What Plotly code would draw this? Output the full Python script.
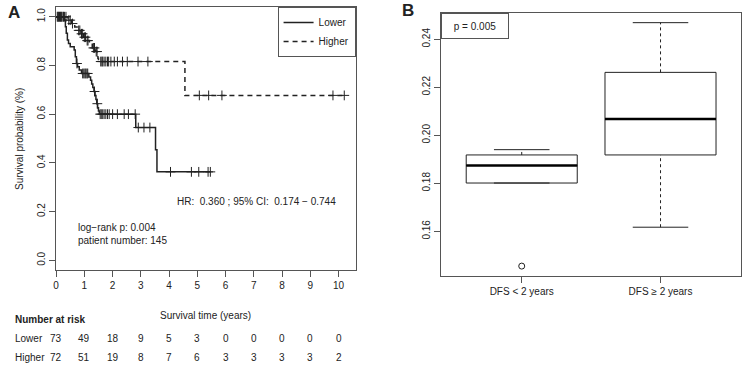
import plotly.graph_objects as go

# ---------------- Panel A data (Kaplan-Meier) ----------------
lower_step_t = [0.0, 0.30, 0.33, 0.36, 0.40, 0.44, 0.50, 0.64, 0.68, 0.72, 0.76, 0.82, 0.90,
                1.16, 1.22, 1.26, 1.30, 1.34, 1.38, 1.41, 1.44, 1.47, 1.50, 1.53, 2.82, 3.52, 3.57, 5.46]
lower_step_s = [1.0, 0.986, 0.959, 0.932, 0.904, 0.890, 0.877, 0.863, 0.836, 0.808, 0.795, 0.781, 0.767,
                0.753, 0.739, 0.724, 0.709, 0.693, 0.677, 0.660, 0.643, 0.626, 0.613, 0.600, 0.545, 0.454, 0.363, 0.363]
lower_cens_t = [0.04, 0.08, 0.12, 0.16, 0.20, 0.25, 0.74, 0.94, 0.98, 1.02, 1.05, 1.09, 1.12, 1.36, 1.46,
                1.56, 1.60, 1.65, 1.70, 1.76, 1.82, 1.88, 2.0, 2.17, 2.41, 2.56, 2.80,
                2.91, 3.11, 3.32, 4.05, 4.79, 5.05, 5.38, 5.46]
lower_cens_s = [1.0, 1.0, 1.0, 1.0, 1.0, 1.0, 0.808, 0.767, 0.767, 0.767, 0.767, 0.767, 0.767, 0.693, 0.643,
                0.600, 0.600, 0.600, 0.600, 0.600, 0.600, 0.600, 0.600, 0.600, 0.600, 0.600, 0.600,
                0.545, 0.545, 0.545, 0.363, 0.363, 0.363, 0.363, 0.363]

higher_step_t = [0.0, 0.42, 0.55, 0.66, 0.78, 0.88, 0.98, 1.08, 1.18, 1.28, 1.40, 1.46, 1.48, 1.50, 4.56, 10.2]
higher_step_s = [1.0, 0.986, 0.972, 0.958, 0.944, 0.930, 0.916, 0.902, 0.887, 0.872, 0.857, 0.843, 0.830, 0.816, 0.677, 0.677]
higher_cens_t = [0.06, 0.10, 0.15, 0.20, 0.26, 0.30, 0.35, 0.45, 0.50, 0.58, 0.80, 0.84, 0.90, 0.94, 1.00, 1.04,
                 1.10, 1.13, 1.32, 1.36, 1.42, 1.45,
                 1.58, 1.62, 1.65, 1.70, 1.76, 1.82, 1.86, 1.94, 2.06, 2.17, 2.35, 2.52, 2.90, 3.25,
                 5.07, 5.40, 5.87, 9.80, 10.2]
higher_cens_s = [1.0, 1.0, 1.0, 1.0, 1.0, 1.0, 1.0, 0.986, 0.986, 0.972, 0.944, 0.944, 0.930, 0.930, 0.916, 0.916,
                 0.902, 0.902, 0.872, 0.872, 0.857, 0.857,
                 0.816, 0.816, 0.816, 0.816, 0.816, 0.816, 0.816, 0.816, 0.816, 0.816, 0.816, 0.816, 0.816, 0.816,
                 0.677, 0.677, 0.677, 0.677, 0.677]

risk_times = [0, 1, 2, 3, 4, 5, 6, 7, 8, 9, 10]
risk_lower = [73, 49, 18, 9, 5, 3, 0, 0, 0, 0, 0]
risk_higher = [72, 51, 19, 8, 7, 6, 3, 3, 3, 3, 2]

# ---------------- Panel B data (box plot statistics) ----------------
box_labels = ["DFS < 2 years", "DFS \u2265 2 years"]
box_pos = [1, 2]
box_lower_whisker = [0.1801, 0.1617]
box_q1 = [0.1801, 0.1918]
box_median = [0.1874, 0.2068]
box_q3 = [0.1918, 0.2262]
box_upper_whisker = [0.1940, 0.2469]
outlier_x = [1]
outlier_y = [0.1455]

FONT = "Liberation Sans, Arial, Helvetica, sans-serif"
INK = "#222222"
W, H = 744, 365


def px(x):
    return x / W


def py(y):
    return 1 - y / H


fig = go.Figure()

# ---- Panel A traces ----
fig.add_trace(go.Scatter(x=lower_step_t, y=lower_step_s, mode="lines", line_shape="hv",
                         line=dict(color=INK, width=1.5), name="Lower", xaxis="x", yaxis="y"))
fig.add_trace(go.Scatter(x=higher_step_t, y=higher_step_s, mode="lines", line_shape="hv",
                         line=dict(color=INK, width=1.5, dash="5px,4px"), name="Higher", xaxis="x", yaxis="y"))
fig.add_trace(go.Scatter(x=lower_cens_t, y=lower_cens_s, mode="markers", showlegend=False,
                         marker=dict(symbol="cross-thin", size=7, line=dict(width=1, color=INK)),
                         xaxis="x", yaxis="y"))
fig.add_trace(go.Scatter(x=higher_cens_t, y=higher_cens_s, mode="markers", showlegend=False,
                         marker=dict(symbol="cross-thin", size=7, line=dict(width=1, color=INK)),
                         xaxis="x", yaxis="y"))

# ---- Panel B traces ----
BOX_W = 0.8
for i in range(len(box_pos)):
    xp = box_pos[i]
    # dashed whiskers
    fig.add_trace(go.Scatter(x=[xp, xp], y=[box_q3[i], box_upper_whisker[i]], mode="lines",
                             line=dict(color=INK, width=1, dash="3px,3px"), showlegend=False,
                             xaxis="x2", yaxis="y2"))
    fig.add_trace(go.Scatter(x=[xp, xp], y=[box_lower_whisker[i], box_q1[i]], mode="lines",
                             line=dict(color=INK, width=1, dash="3px,3px"), showlegend=False,
                             xaxis="x2", yaxis="y2"))
    # caps
    for wv in (box_upper_whisker[i], box_lower_whisker[i]):
        fig.add_trace(go.Scatter(x=[xp - BOX_W / 4, xp + BOX_W / 4], y=[wv, wv], mode="lines",
                                 line=dict(color=INK, width=1), showlegend=False,
                                 xaxis="x2", yaxis="y2"))
    # box body
    fig.add_trace(go.Box(x=[xp], q1=[box_q1[i]], median=[box_median[i]], q3=[box_q3[i]],
                         lowerfence=[box_q1[i]], upperfence=[box_q3[i]], width=BOX_W,
                         whiskerwidth=0, boxpoints=False, fillcolor="white",
                         line=dict(color=INK, width=1), showlegend=False,
                         hoverinfo="skip", xaxis="x2", yaxis="y2"))
    # thick median
    fig.add_trace(go.Scatter(x=[xp - BOX_W / 2, xp + BOX_W / 2], y=[box_median[i], box_median[i]],
                             mode="lines", line=dict(color="black", width=2.6), showlegend=False,
                             xaxis="x2", yaxis="y2"))

fig.add_trace(go.Scatter(x=outlier_x, y=outlier_y, mode="markers", showlegend=False,
                         marker=dict(symbol="circle-open", size=6, color=INK, line=dict(width=1)),
                         xaxis="x2", yaxis="y2"))

axis_common = dict(showgrid=False, zeroline=False, showline=True, mirror=True,
                   linecolor="#555555", linewidth=1, ticks="outside", ticklen=6,
                   tickcolor="#555555", tickfont=dict(family=FONT, size=10, color=INK))

fig.update_layout(
    width=W, height=H, margin=dict(l=0, r=0, t=0, b=0),
    paper_bgcolor="white", plot_bgcolor="white",
    font=dict(family=FONT, size=10, color=INK),
    xaxis=dict(domain=[px(53.3), px(354)], range=[0, 10.6], tickvals=risk_times,
               anchor="y", **axis_common),
    yaxis=dict(domain=[py(270), py(7)], range=[-0.04, 1.04], tickvals=[0, 0.2, 0.4, 0.6, 0.8, 1.0],
               tickformat=".1f", tickangle=-90, anchor="x", **axis_common),
    xaxis2=dict(domain=[px(440), px(741)], range=[0.42, 2.58], tickvals=box_pos, ticktext=box_labels,
                anchor="y2", **axis_common),
    yaxis2=dict(domain=[py(275.7), py(13.3)], range=[0.1415, 0.2508],
                tickvals=[0.16, 0.18, 0.20, 0.22, 0.24], tickformat=".2f", tickangle=-90,
                anchor="x2", **axis_common),
    legend=dict(x=px(354), xanchor="right", y=py(7), yanchor="top",
                bordercolor="#555555", borderwidth=1, bgcolor="white",
                font=dict(family=FONT, size=10, color=INK), itemwidth=30,
                tracegroupgap=0),
    showlegend=True,
)

ann = []


def text(x, y, s, size=10, bold=False, xanchor="center", xref="paper", yanchor="middle", **kw):
    ann.append(dict(x=x, y=y, xref=xref, yref="paper", text=("<b>%s</b>" % s) if bold else s,
                    showarrow=False, xanchor=xanchor, yanchor=yanchor,
                    font=dict(family=FONT, size=size, color=INK), **kw))


# Panel labels
text(px(3), py(13), "A", size=17, bold=True, xanchor="left")
text(px(399), py(10), "B", size=17, bold=True, xanchor="left")

# Panel A axis titles and texts
text(px(203.5), py(315), "Survival time (years)")
ann.append(dict(x=px(9), y=py(138.5), xref="paper", yref="paper", text="Survival probability (%)",
                showarrow=False, textangle=-90, font=dict(family=FONT, size=10, color=INK)))
text(px(173), py(202), "HR:  0.360 ; 95% CI:  0.174 \u2212 0.744", xanchor="left")
text(px(73), py(227), "log\u2212rank p: 0.004", xanchor="left")
text(px(73), py(241), "patient number: 145", xanchor="left")

# Number at risk table
text(px(10), py(319), "Number at risk", bold=True, xanchor="left")
text(px(10), py(338), "Lower", xanchor="left")
text(px(10), py(357), "Higher", xanchor="left")
for t, a, b in zip(risk_times, risk_lower, risk_higher):
    text(t, py(338), str(a), xref="x")
    text(t, py(357), str(b), xref="x")

# p-value box in panel B
ann.append(dict(x=px(440), y=py(13.3), xref="paper", yref="paper", xanchor="left", yanchor="top",
                text="p = 0.005", showarrow=False, width=62, height=20, align="center",
                bordercolor="#555555", borderwidth=1, borderpad=2, bgcolor="white",
                font=dict(family=FONT, size=10, color=INK)))

fig.update_layout(annotations=ann)

fig.write_html("out.html", config={"displayModeBar": False},
               post_script="document.body.style.margin='0px';document.body.style.padding='0px';")
